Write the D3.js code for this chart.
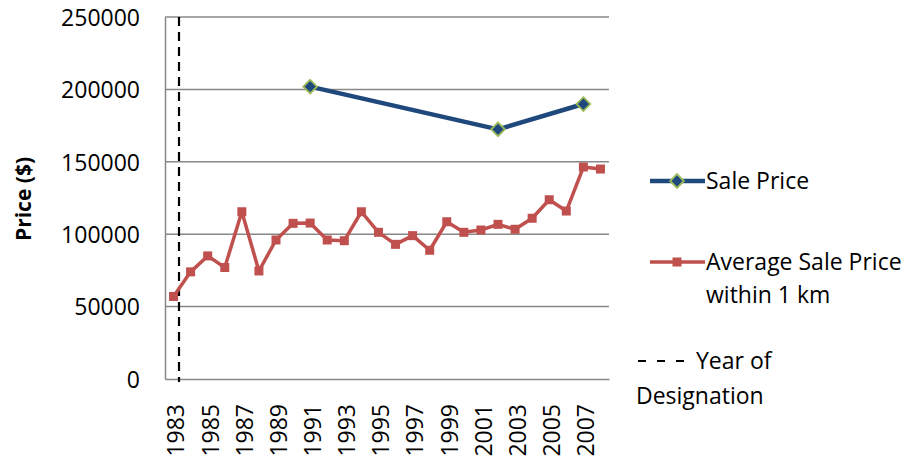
<!DOCTYPE html>
<html><head><meta charset="utf-8">
<script src="https://cdn.jsdelivr.net/npm/d3@7"></script>
<style>html,body{margin:0;padding:0;background:#fff;}svg{display:block;font-family:"Open Sans",sans-serif;}</style>
</head><body><svg id="c" width="911" height="462"></svg>
<script>
const years = d3.range(1983, 2009);
const avgPrice = [57000,74000,85000,77000,115500,74600,96000,107500,107700,96000,95500,115500,101300,93000,99000,88900,108600,101300,102900,106800,103400,111000,123800,116000,146400,145000];
const saleYears = [1991, 2002, 2007];
const salePrice = [201900, 172400, 189900];
const designationYear = 1983.32;
const yTicks = [0,50000,100000,150000,200000,250000];
const xLabelYears = years.filter(y => (y - 1983) % 2 === 0);

const svg = d3.select("#c");
const L = 165, R = 609, T = 17, B = 379;
const x = d3.scaleLinear().domain([1982.5, 2008.5]).range([L, R]);
const y = d3.scaleLinear().domain([0, 250000]).range([B, T]);
const FS = 23;

// gridlines
svg.append("g").selectAll("line").data(yTicks.slice(1)).join("line")
  .attr("x1", L).attr("x2", R).attr("y1", d => y(d)).attr("y2", d => y(d))
  .attr("stroke", "#888").attr("stroke-width", 1.5);

// y axis
const yAxis = svg.append("g").attr("transform", `translate(${L},0)`)
  .call(d3.axisLeft(y).tickValues(yTicks).tickSize(0).tickPadding(25).tickFormat(d3.format("d")));
yAxis.select(".domain").attr("stroke", "#888").attr("stroke-width", 1.5);
yAxis.selectAll("text").attr("font-size", FS).attr("fill", "#000").attr("font-family", "Open Sans").attr("dy", "0.36em");

// x axis
const xAxis = svg.append("g").attr("transform", `translate(0,${B})`)
  .call(d3.axisBottom(x).tickValues(xLabelYears).tickSize(0).tickFormat(d3.format("d")));
xAxis.select(".domain").attr("stroke", "#888").attr("stroke-width", 1.5);
xAxis.selectAll("text").attr("font-size", FS).attr("fill", "#000").attr("font-family", "Open Sans")
  .attr("transform", "rotate(-90)").attr("text-anchor", "end").attr("dy", "0.45em")
  .attr("x", -25).attr("y", 0);

// y title
svg.append("text").attr("transform", `translate(31,${(T+B)/2 + 1}) rotate(-90)`)
  .attr("text-anchor", "middle").attr("font-weight", "bold").attr("font-size", 21).text("Price ($)");

// designation line
svg.append("line").attr("x1", x(designationYear)).attr("x2", x(designationYear))
  .attr("y1", T).attr("y2", B + 3).attr("stroke", "#000").attr("stroke-width", 2.2)
  .attr("stroke-dasharray", "9,6");

// red series
const red = "#C0504D";
svg.append("path").datum(years.map((yr, i) => [yr, avgPrice[i]]))
  .attr("fill", "none").attr("stroke", red).attr("stroke-width", 3.5).attr("stroke-linejoin", "round")
  .attr("d", d3.line().x(d => x(d[0])).y(d => y(d[1])));
svg.append("g").selectAll("rect").data(years.map((yr, i) => [yr, avgPrice[i]])).join("rect")
  .attr("x", d => x(d[0]) - 4.5).attr("y", d => y(d[1]) - 4.5).attr("width", 9).attr("height", 9)
  .attr("fill", red);

// blue series
const blue = "#1F497D", green = "#9BBB59";
const saleData = saleYears.map((yr, i) => [yr, salePrice[i]]);
svg.append("path").datum(saleData)
  .attr("fill", "none").attr("stroke", blue).attr("stroke-width", 4.5).attr("stroke-linejoin", "round")
  .attr("d", d3.line().x(d => x(d[0])).y(d => y(d[1])));
const diamond = d3.symbol().type(d3.symbolDiamond2).size(120);
svg.append("g").selectAll("path").data(saleData).join("path")
  .attr("transform", d => `translate(${x(d[0])},${y(d[1])})`)
  .attr("d", diamond).attr("fill", blue).attr("stroke", green).attr("stroke-width", 1.8);

// legend
const lg = svg.append("g").attr("font-size", FS);
lg.append("line").attr("x1", 650).attr("x2", 705).attr("y1", 181).attr("y2", 181).attr("stroke", blue).attr("stroke-width", 4.5);
lg.append("path").attr("transform", "translate(677,181)").attr("d", diamond).attr("fill", blue).attr("stroke", green).attr("stroke-width", 1.8);
lg.append("text").attr("x", 706).attr("y", 181).attr("dy", "0.36em").text("Sale Price");

lg.append("line").attr("x1", 650).attr("x2", 705).attr("y1", 262).attr("y2", 262).attr("stroke", red).attr("stroke-width", 3.5);
lg.append("rect").attr("x", 677 - 4.5).attr("y", 262 - 4.5).attr("width", 9).attr("height", 9).attr("fill", red);
lg.append("text").attr("x", 706).attr("y", 262).attr("dy", "0.36em").text("Average Sale Price");
lg.append("text").attr("x", 706).attr("y", 295).attr("dy", "0.36em").text("within 1 km");

lg.append("line").attr("x1", 638).attr("x2", 688).attr("y1", 361).attr("y2", 361).attr("stroke", "#000").attr("stroke-width", 2).attr("stroke-dasharray", "8,11");
lg.append("text").attr("x", 696).attr("y", 361).attr("dy", "0.36em").text("Year of");
lg.append("text").attr("x", 636).attr("y", 396).attr("dy", "0.36em").text("Designation");
</script></body></html>
